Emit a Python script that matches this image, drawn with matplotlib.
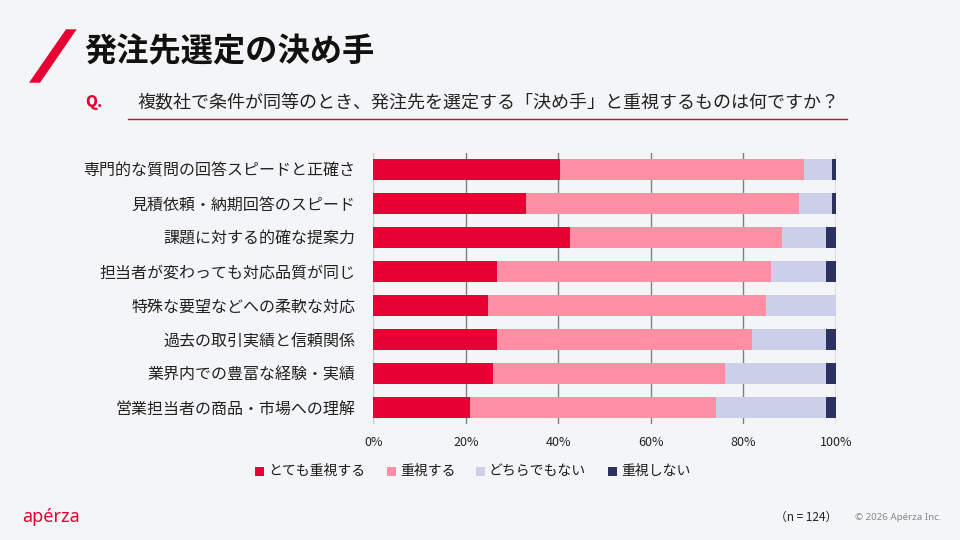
import matplotlib
matplotlib.use("Agg")
import matplotlib.pyplot as plt
from matplotlib.patches import Polygon, Rectangle
import numpy as np

plt.rcParams['font.family'] = ['Noto Sans CJK JP', 'DejaVu Sans']

categories = [
    "専門的な質問の回答スピードと正確さ",
    "見積依頼・納期回答のスピード",
    "課題に対する的確な提案力",
    "担当者が変わっても対応品質が同じ",
    "特殊な要望などへの柔軟な対応",
    "過去の取引実績と信頼関係",
    "業界内での豊富な経験・実績",
    "営業担当者の商品・市場への理解",
]
series_names = ["とても重視する", "重視する", "どちらでもない", "重視しない"]
very_important = [40.3, 33.1, 42.6, 26.8, 24.8, 26.8, 25.9, 21.0]
important      = [52.8, 58.9, 45.8, 59.3, 60.1, 55.2, 50.2, 53.2]
neutral        = [6.0, 7.3, 9.6, 11.9, 15.1, 16.0, 21.9, 23.8]
not_important  = [0.9, 0.7, 2.0, 2.0, 0.0, 2.0, 2.0, 2.0]
xticks = [0, 20, 40, 60, 80, 100]
xtick_labels = ["0%", "20%", "40%", "60%", "80%", "100%"]

colors = ["#E60033", "#FF8FA5", "#CBCFE9", "#2C3263"]
BG = "#F4F5F7"
W, H = 960, 540

fig = plt.figure(figsize=(9.6, 5.4), dpi=100, facecolor=BG)

def fx(px):
    return px / W

def fy(py):
    return 1 - py / H

# slash decoration
fig.patches.append(Polygon([(fx(29), fy(82.7)), (fx(40), fy(82.7)),
                            (fx(76.7), fy(29.3)), (fx(66), fy(29.3))],
                           closed=True, facecolor="#E60033", edgecolor="none",
                           transform=fig.transFigure))

fig.text(fx(84), fy(52), "発注先選定の決め手", fontsize=23.2, fontweight="bold",
         color="#111111", ha="left", va="center")
fig.text(fx(85), fy(103), "Q.", fontsize=11, fontweight="heavy", color="#E60033",
         ha="left", va="center")
fig.text(fx(137), fy(103), "複数社で条件が同等のとき、発注先を選定する「決め手」と重視するものは何ですか？",
         fontsize=13, color="#222222", ha="left", va="center")
fig.add_artist(plt.Line2D([fx(128), fx(847)], [fy(119), fy(119)],
                          color="#C8102E", lw=1.0, transform=fig.transFigure))

ax = fig.add_axes([fx(373.3), fy(424), fx(835.7) - fx(373.3), fy(152.5) - fy(424)])
ax.set_facecolor(BG)
y = np.arange(len(categories))
left = np.zeros(len(categories))
for vals, col in zip([very_important, important, neutral, not_important], colors):
    v = np.array(vals)
    ax.barh(y, v, left=left, height=0.62, color=col, edgecolor="none", zorder=3)
    left += v

ax.set_xlim(0, 100)
ax.set_ylim(len(categories) - 0.5, -0.5)
ax.set_yticks(y)
ax.set_yticklabels(categories, fontsize=11.5, color="#222222")
ax.set_xticks(xticks)
ax.set_xticklabels(xtick_labels, fontsize=9, color="#222222")
ax.tick_params(axis="y", length=0, pad=13)
ax.tick_params(axis="x", length=0, pad=9)
for s in ax.spines.values():
    s.set_visible(False)
for xv in xticks[1:]:
    ax.axvline(xv, color="#808080", lw=1.0, zorder=1)
ax.axvline(0, color="#CCCCCC", lw=1.0, zorder=1)

# legend
leg_sq = [255, 387, 476, 608]
for xs, name, col in zip(leg_sq, series_names, colors):
    fig.patches.append(Rectangle((fx(xs), fy(476)), fx(8.5), 9.5 / H,
                                 facecolor=col, edgecolor="none",
                                 transform=fig.transFigure))
    fig.text(fx(xs + 13), fy(471), name, fontsize=10, color="#1A1A1A",
             ha="left", va="center")

# footer
fig.text(fx(22), fy(517), "apérza", fontsize=13, fontweight="bold", color="#E60033",
         ha="left", va="center", family=["Noto Sans", "DejaVu Sans"])
fig.text(fx(806), fy(517), "（n = 124）", fontsize=8.5, color="#222222",
         ha="center", va="center")
fig.text(fx(941), fy(518), "© 2026 Apérza Inc.", fontsize=7, fontweight="bold",
         color="#888888", ha="right", va="center", family=["Noto Sans", "DejaVu Sans"])

fig.savefig("out.png", dpi=100, facecolor=BG)
